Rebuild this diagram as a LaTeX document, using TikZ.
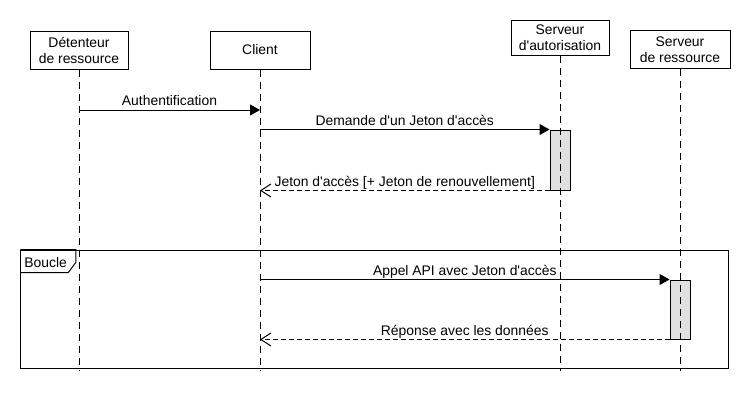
\documentclass[tikz,border=0pt]{standalone}
\usepackage{fontspec}
\setmainfont{Liberation Sans}
\usetikzlibrary{arrows.meta,calc}
\definecolor{barfill}{HTML}{E0E0E0}
\newcommand{\sq}{\textquotesingle}
\begin{document}
\begin{tikzpicture}[x=1pt,y=-1pt,
  every node/.style={font=\fontsize{13.9}{16}\selectfont},
  actor/.style={draw=black,line width=1pt,fill=white,minimum width=98pt,minimum height=38pt,align=center,inner sep=1pt},
  life/.style={line width=1pt,dash pattern=on 7pt off 5pt},
  actbar/.style={draw=black,line width=1pt,fill=barfill,minimum width=20pt,inner sep=0pt},
  msg/.style={line width=1pt,-{Triangle[length=10pt,width=11pt]}},
  ret/.style={line width=1pt,dash pattern=on 5pt off 3pt,-{Straight Barb[length=10pt,width=13pt]}},
  lbl/.style={anchor=base,inner sep=0pt,yshift=4.5pt},
  loopframe/.style={draw=black,line width=1pt,inner sep=0pt}
]
\useasboundingbox (0,0) rectangle (750,410);
\fill[white] (0,0) rectangle (750,410);

% loop frame
\node[loopframe,minimum width=708pt,minimum height=118pt] (loop) at (374.75,309) {};
\draw[line width=1pt] (loop.north west) -| ($(loop.north west)+(55.5,13)$) -- ($(loop.north west)+(48,23)$) -- ($(loop.north west)+(0,23)$);
\node[anchor=base west,inner sep=0pt] (boucle) at ($(loop.north west)+(4,17.5)$) {Boucle};

% actors
\node[actor] (det) at (79,50) {Détenteur\\de ressource};
\node[actor,minimum width=100pt] (cli) at (260,50) {Client};
\node[actor,minimum height=35pt] (aut) at (560,37.5) {Serveur\\d\sq autorisation};
\node[actor,minimum width=100pt] (res) at (680,49.5) {Serveur\\de ressource};

% activation bars
\node[actbar,minimum height=60pt] (a1) at (560,160) {};
\node[actbar,minimum height=59pt] (a2) at (680,309.5) {};

% lifelines
\coordinate (detE) at (det.south |- 0,371);
\coordinate (cliE) at (cli.south |- 0,371);
\coordinate (autE) at (aut.south |- 0,371);
\coordinate (resE) at (res.south |- 0,371);
\draw[life] (det.south) -- (detE);
\draw[life] (cli.south) -- (cliE);
\draw[life] (aut.south) -- (autE);
\draw[life] (res.south) -- (resE);

% messages
\coordinate (m1s) at (det.south |- 0,110);
\coordinate (m1e) at (cli.south |- 0,110);
\draw[msg] (m1s) -- (m1e) node[lbl,midway] (l1) {Authentification};

\coordinate (m2s) at (cli.south |- a1.north west);
\draw[msg] (m2s) -- (a1.north west) node[lbl,midway] (l2) {Demande d\sq un Jeton d\sq accès};

\coordinate (m3e) at (cli.south |- a1.south west);
\draw[ret] (a1.south west) -- (m3e) node[lbl,midway] (l3) {Jeton d\sq accès [+ Jeton de renouvellement]};

\coordinate (m4s) at (cli.south |- a2.north west);
\draw[msg] (m4s) -- (a2.north west) node[lbl,midway] (l4) {Appel API avec Jeton d\sq accès};

\coordinate (m5e) at (cli.south |- a2.south west);
\draw[ret] (a2.south west) -- (m5e) node[lbl,midway] (l5) {Réponse avec les données};
\end{tikzpicture}
\end{document}
